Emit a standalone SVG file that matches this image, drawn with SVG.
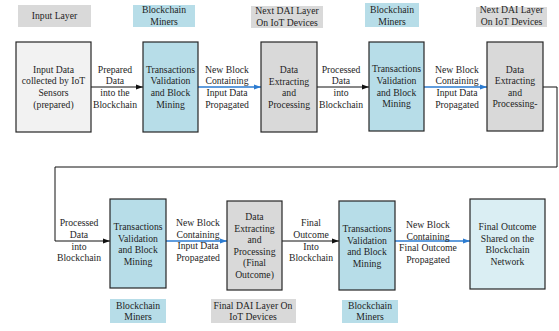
<svg xmlns="http://www.w3.org/2000/svg" width="559" height="331" viewBox="0 0 559 331">
<style>
text{font-family:"Liberation Serif","Times New Roman",serif;font-size:9.7px;fill:#1e1e1e;text-anchor:middle}
.box{stroke:#262626;stroke-width:1.2}
.inp{fill:#f2f2f2}.bc{fill:#b7dde8}.dai{fill:#d9d9d9}.fin{fill:#daeef3}
.lg{fill:#d9d9d9}.lb{fill:#b7dde8}
.k{stroke:#111;stroke-width:1;fill:none}
.b{stroke:#2b7bd0;stroke-width:1.5;fill:none}
</style>
<defs>
<marker id="ak" markerWidth="8" markerHeight="6" refX="7" refY="3" orient="auto" markerUnits="userSpaceOnUse"><path d="M0,0.5 L7,3 L0,5.5z" fill="#111"/></marker>
<marker id="ab" markerWidth="8" markerHeight="6" refX="7" refY="3" orient="auto" markerUnits="userSpaceOnUse"><path d="M0,0.5 L7,3 L0,5.5z" fill="#2b7bd0"/></marker>
</defs>

<g id="labels">
<g id="lbl-input"><rect class="lg" x="18" y="5" width="73" height="22"/><text x="54.5" y="19.3">Input Layer</text></g>
<g id="lbl-miners1"><rect class="lb" x="133" y="5" width="62" height="22"/><text x="164" y="12.8">Blockchain<tspan x="164" dy="12">Miners</tspan></text></g>
<g id="lbl-dai1"><rect class="lg" x="251" y="6" width="72" height="22"/><text x="287" y="14.3">Next DAI Layer<tspan x="287" dy="12">On IoT Devices</tspan></text></g>
<g id="lbl-miners2"><rect class="lb" x="365" y="3" width="54" height="24"/><text x="392" y="13">Blockchain<tspan x="392" dy="11.5">Miners</tspan></text></g>
<g id="lbl-dai2"><rect class="lg" x="476" y="7" width="71" height="20"/><text x="511.5" y="13.3">Next DAI Layer<tspan x="511.5" dy="11.5">On IoT Devices</tspan></text></g>
<g id="lbl-miners3"><rect class="lb" x="110" y="299" width="56" height="24"/><text x="138" y="309.3">Blockchain<tspan x="138" dy="11">Miners</tspan></text></g>
<g id="lbl-dai3"><rect class="lg" x="211" y="299" width="85" height="24"/><text x="253" y="309.3">Final DAI Layer On<tspan x="253" dy="11">IoT Devices</tspan></text></g>
<g id="lbl-miners4"><rect class="lb" x="342" y="300" width="56" height="23"/><text x="370" y="309.3">Blockchain<tspan x="370" dy="11">Miners</tspan></text></g>
</g>

<g id="connectors">
<path class="k" d="M91,87 H143" marker-end="url(#ak)"/>
<path class="b" d="M198,87 H261" marker-end="url(#ab)"/>
<path class="k" d="M317,87 H369" marker-end="url(#ak)"/>
<path class="b" d="M424,87 H487" marker-end="url(#ab)"/>
<path class="k" d="M543,87 H557 V167 H55 V241 H110" marker-end="url(#ak)"/>
<path class="b" d="M166,241 H227" marker-end="url(#ab)"/>
<path class="k" d="M282,241 H339" marker-end="url(#ak)"/>
<path class="b" d="M395,241 H470" marker-end="url(#ab)"/>
<text x="115" y="72.8">Prepared<tspan x="115" dy="11.6">Data</tspan><tspan x="115" dy="11.6">into the</tspan><tspan x="115" dy="11.6">Blockchain</tspan></text>
<text x="227" y="72.8">New Block<tspan x="227" dy="11.6">Containing</tspan><tspan x="227" dy="11.6">Input Data</tspan><tspan x="227" dy="11.6">Propagated</tspan></text>
<text x="341" y="72.8">Processed<tspan x="341" dy="11.6">Data</tspan><tspan x="341" dy="11.6">into</tspan><tspan x="341" dy="11.6">Blockchain</tspan></text>
<text x="457" y="72.8">New Block<tspan x="457" dy="11.6">Containing</tspan><tspan x="457" dy="11.6">Input Data</tspan><tspan x="457" dy="11.6">Propagated</tspan></text>
<text x="79" y="226.3">Processed<tspan x="79" dy="11.6">Data</tspan><tspan x="79" dy="11.6">into</tspan><tspan x="79" dy="11.6">Blockchain</tspan></text>
<text x="198" y="226.3">New Block<tspan x="198" dy="11.5">Containing</tspan><tspan x="198" dy="11.5">Input Data</tspan><tspan x="198" dy="11.5">Propagated</tspan></text>
<text x="311" y="226.3">Final<tspan x="311" dy="11.6">Outcome</tspan><tspan x="311" dy="11.6">Into</tspan><tspan x="311" dy="11.6">Blockchain</tspan></text>
<text x="428" y="228.3">New Block<tspan x="428" dy="11.5">Containing</tspan><tspan x="428" dy="11.5">Final Outcome</tspan><tspan x="428" dy="11.5">Propagated</tspan></text>
</g>

<g id="n1"><rect class="box inp" x="16" y="42" width="75" height="90"/><text x="53.5" y="72.8">Input Data<tspan x="53.5" dy="11.6">collected by IoT</tspan><tspan x="53.5" dy="11.6">Sensors</tspan><tspan x="53.5" dy="11.6">(prepared)</tspan></text></g>
<g id="n2"><rect class="box bc" x="143" y="42" width="55" height="90"/><text x="170.5" y="72.8">Transactions<tspan x="170.5" dy="11.6">Validation</tspan><tspan x="170.5" dy="11.6">and Block</tspan><tspan x="170.5" dy="11.6">Mining</tspan></text></g>
<g id="n3"><rect class="box dai" x="261" y="42" width="56" height="90"/><text x="289" y="73.3">Data<tspan x="289" dy="11.4">Extracting</tspan><tspan x="289" dy="11.4">and</tspan><tspan x="289" dy="11.4">Processing</tspan></text></g>
<g id="n4"><rect class="box bc" x="369" y="42" width="55" height="89"/><text x="396.5" y="72.3">Transactions<tspan x="396.5" dy="11.6">Validation</tspan><tspan x="396.5" dy="11.6">and Block</tspan><tspan x="396.5" dy="11.6">Mining</tspan></text></g>
<g id="n5"><rect class="box dai" x="487" y="42" width="56" height="89"/><text x="515" y="72.8">Data<tspan x="515" dy="11.4">Extracting</tspan><tspan x="515" dy="11.4">and</tspan><tspan x="515" dy="11.4">Processing-</tspan></text></g>
<g id="n6"><rect class="box bc" x="110" y="199" width="56" height="89"/><text x="138" y="230.3">Transactions<tspan x="138" dy="11.5">Validation</tspan><tspan x="138" dy="11.5">and Block</tspan><tspan x="138" dy="11.5">Mining</tspan></text></g>
<g id="n7"><rect class="box dai" x="227" y="201" width="55" height="89"/><text x="254.5" y="220.3">Data<tspan x="254.5" dy="11.5">Extracting</tspan><tspan x="254.5" dy="11.5">and</tspan><tspan x="254.5" dy="11.5">Processing</tspan><tspan x="254.5" dy="11.5">(Final</tspan><tspan x="254.5" dy="11.5">Outcome)</tspan></text></g>
<g id="n8"><rect class="box bc" x="339" y="201" width="56" height="89"/><text x="367" y="232.3">Transactions<tspan x="367" dy="11.5">Validation</tspan><tspan x="367" dy="11.5">and Block</tspan><tspan x="367" dy="11.5">Mining</tspan></text></g>
<g id="n9"><rect class="box fin" x="470" y="199" width="75" height="90"/><text x="507.5" y="230.3">Final Outcome<tspan x="507.5" dy="11.5">Shared on the</tspan><tspan x="507.5" dy="11.5">Blockchain</tspan><tspan x="507.5" dy="11.5">Network</tspan></text></g>
</svg>
